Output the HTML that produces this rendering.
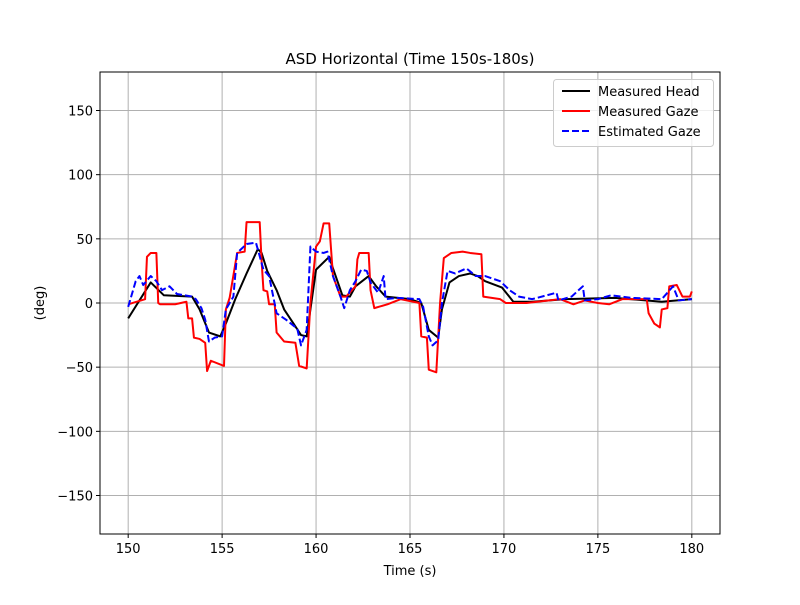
<!DOCTYPE html>
<html><head><meta charset="utf-8"><style>
body{margin:0;background:#fff;}
svg text{font-family:"DejaVu Sans","Liberation Sans",sans-serif;font-size:13px;fill:#000;}
</style></head><body>
<svg id="chart" width="800" height="600">
<text x="410" y="64" text-anchor="middle" style="font-size:15px">ASD Horizontal (Time 150s-180s)</text>
<g id="grid"></g><g id="series"></g><g id="axes"></g>
<text x="410" y="575" text-anchor="middle">Time (s)</text>
<text x="0" y="0" transform="translate(44,303) rotate(-90)" text-anchor="middle">(deg)</text>
<g>
<rect x="553.5" y="79.5" width="160" height="67" rx="3" fill="#fff" fill-opacity="0.8" stroke="#ccc"/>
<line x1="562" y1="91" x2="590" y2="91" stroke="#000" stroke-width="2"/>
<text x="598" y="96">Measured Head</text>
<line x1="562" y1="111" x2="590" y2="111" stroke="red" stroke-width="2"/>
<text x="598" y="116">Measured Gaze</text>
<line x1="562" y1="131" x2="590" y2="131" stroke="blue" stroke-width="2" stroke-dasharray="7,3"/>
<text x="598" y="136">Estimated Gaze</text>
</g>
</svg>
<script>
const xTicks=[150,155,160,165,170,175,180];
const yTicks=[-150,-100,-50,0,50,100,150];
const headT=[150,151.2,151.9,153.4,153.8,154.3,154.9,155.2,155.7,156.3,156.9,157.1,157.4,157.9,158.3,158.8,159.2,159.5,159.7,160,160.7,160.9,161.4,161.8,162.1,162.8,163.2,163.7,165,165.6,166,166.5,166.7,167.1,167.6,168.2,168.6,169,169.9,170.5,171.5,173.3,175.9,178.4,180];
const headV=[-12,16,6,5,-5,-23,-26,-16,3,23,42,39,25,10,-5,-16,-25,-26,-5,26,36,27,6,5,13,21,13,5,3,0,-21,-27,-5,16,21,23,21,17,12,1,1,3,4,1,3];
const gazeT=[150,150.9,151,151.2,151.5,151.6,151.7,152.5,153.1,153.2,153.4,153.5,153.8,154.1,154.2,154.4,155.1,155.2,155.4,155.8,156.2,156.3,157,157.1,157.2,157.4,157.5,157.8,157.9,158.3,158.9,159.1,159.5,159.7,160,160.2,160.4,160.7,160.9,161.3,161.6,162.1,162.2,162.3,162.8,162.9,163.1,163.8,164.5,165.5,165.6,165.9,166,166.4,166.6,166.8,167.2,167.8,168.2,168.8,168.9,169.8,170.1,171.2,173,173.7,174.3,175,175.6,176.3,177.6,177.7,178,178.3,178.4,178.7,178.8,179.2,179.5,179.9,180];
const gazeV=[-1,3,36,39,39,0,-1,-1,1,-12,-12,-27,-28,-31,-53,-45,-49,-5,4,39,40,63,63,33,10,9,-1,-1,-23,-30,-31,-49,-51,0,44,48,62,62,21,5,5,13,34,39,39,10,-4,-1,3,0,-26,-27,-52,-54,0,35,39,40,39,38,5,3,0,0,3,-1,2,0,-1,3,3,-8,-16,-19,-5,-4,13,14,5,5,9];
const estT=[150,150.4,150.6,150.8,151.2,151.5,151.8,152.2,152.6,153.4,153.6,153.9,154.1,154.3,154.6,155,155.2,155.6,155.8,156.3,156.8,157.2,157.5,157.9,158.4,159,159.2,159.5,159.7,160,160.4,160.6,160.9,161.3,161.5,161.8,162.1,162.4,162.7,162.9,163.3,163.6,163.7,164.3,165.5,165.7,166,166.2,166.5,166.7,167,167.4,168,168.5,169,169.8,170.3,170.8,171.5,172.8,172.9,173.6,174.2,174.3,175,175.7,176.8,178.4,179,179.3,180];
const estV=[-3,17,21,14,21,17,10,13,7,5,3,-4,-13,-30,-27,-26,-5,5,39,46,47,26,21,-8,-13,-20,-33,-21,44,40,39,40,21,5,-4,10,17,26,25,16,8,21,3,4,3,-3,-26,-33,-29,0,25,23,27,21,21,17,10,5,3,8,2,5,13,2,3,6,4,3,13,2,3];
const L=100,R=720,T=72,B=534,X0=148.5,X1=181.5,Y0=-180,Y1=180;
const sx=t=>L+(t-X0)/(X1-X0)*(R-L), sy=v=>B-(v-Y0)/(Y1-Y0)*(B-T);
const NS="http://www.w3.org/2000/svg";
const mk=(p,tag,a)=>{const e=document.createElementNS(NS,tag);for(const k in a)e.setAttribute(k,a[k]);p.appendChild(e);return e;};
const grid=document.getElementById('grid'),axes=document.getElementById('axes'),ser=document.getElementById('series');
xTicks.forEach(t=>{const x=sx(t);
 const g=mk(grid,'line',{x1:x,x2:x,y1:T,y2:B,stroke:'#b0b0b0','stroke-width':1});
 
 
 mk(axes,'line',{x1:x,x2:x,y1:B,y2:B+4,stroke:'#000'});
 const tx=mk(axes,'text',{x:x,y:B+19,'text-anchor':'middle'});tx.textContent=t;
 
 });
yTicks.forEach(v=>{const y=sy(v);
 const g=mk(grid,'line',{x1:L,x2:R,y1:y,y2:y,stroke:'#b0b0b0','stroke-width':1});
 
 
 mk(axes,'line',{x1:L-4,x2:L,y1:y,y2:y,stroke:'#000'});
 const tx=mk(axes,'text',{x:L-7,y:y+5,'text-anchor':'end'});tx.textContent=v<0?'\u2212'+(-v):v;
 
 });
const fr=mk(axes,'rect',{x:L,y:T,width:R-L,height:B-T,fill:'none',stroke:'#000'});


function line(ts,vs,color,dash,name){const p=mk(ser,'polyline',{points:ts.map((t,i)=>sx(t)+','+sy(vs[i])).join(' '),fill:'none',stroke:color,'stroke-width':2,'stroke-linejoin':'round'});
 if(dash)p.setAttribute('stroke-dasharray',dash);
 
 }
line(headT,headV,'#000',null,'measured-head-line');
line(gazeT,gazeV,'red',null,'measured-gaze-line');
line(estT,estV,'blue','7,3','estimated-gaze-line');
</script>
</body></html>
